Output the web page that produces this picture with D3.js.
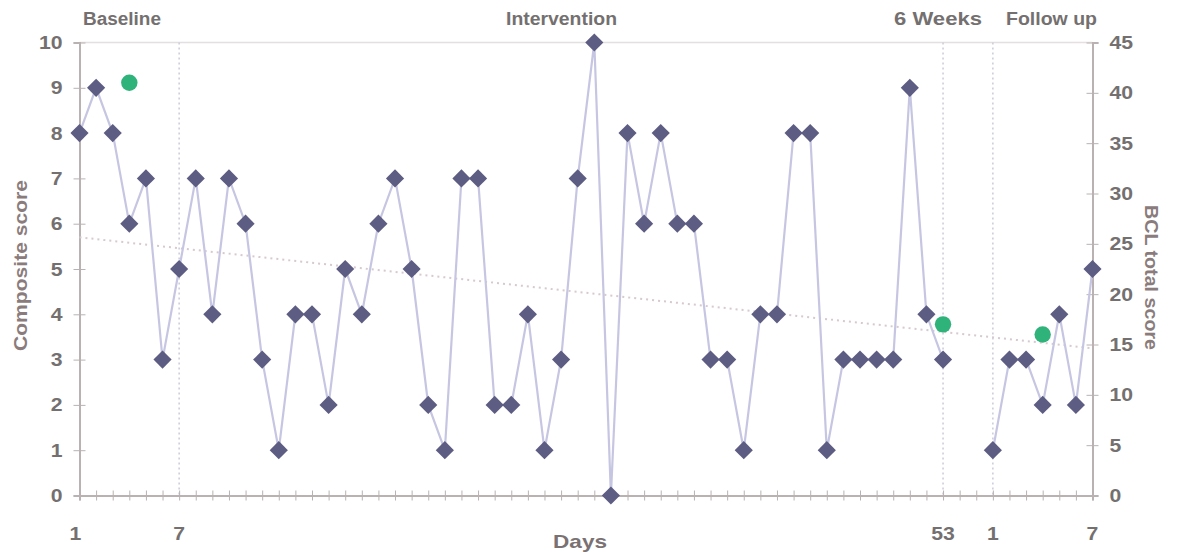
<!DOCTYPE html>
<html>
<head>
<meta charset="utf-8">
<script src="https://cdn.jsdelivr.net/npm/d3@7"></script>
<style>
  html, body { margin: 0; padding: 0; background: #fff; }
  svg { display: block; font-family: "Liberation Sans", Arial, sans-serif; }
</style>
</head>
<body>
<svg id="chart" width="1179" height="552"></svg>
<script>
// ---- data ----
// slot index along the x axis (0..61); slots 53,54 are the empty gap between 6-week and follow-up
const slots = d3.range(62);
const compositeScores = [
  8, 9, 8, 6, 7, 3, 5, 7, 4, 7, 6, 3, 1, 4, 4, 2, 5, 4, 6, 7,
  5, 2, 1, 7, 7, 2, 2, 4, 1, 3, 7, 10, 0, 8, 6, 8, 6, 6, 3, 3,
  1, 4, 4, 8, 8, 1, 3, 3, 3, 3, 9, 4, 3, null, null, 1, 3, 3, 2, 4,
  2, 5
];
const bclSlots = [3, 52, 58];
const bclScores = [41, 17, 16];
const trendSlots = [0, 61];
const trendValues = [5.7, 3.25];
const phaseLineSlots = [6, 52, 55];
const xTickSlots = [0, 6, 52, 55, 61];
const xTickLabels = ["1", "7", "53", "1", "7"];
const phaseLabels = ["Baseline", "Intervention", "6 Weeks", "Follow up"];
const leftTicks = d3.range(0, 11);
const rightTicks = d3.range(0, 46, 5);

// ---- layout ----
const svg = d3.select("#chart");
const L = 79.5, R = 1092.5, T = 42.5, B = 495.5;
const x = d3.scaleLinear().domain([0, 61]).range([L, R]);
const y = d3.scaleLinear().domain([0, 10]).range([B, T]);
const y2 = d3.scaleLinear().domain([0, 45]).range([B, T]);

const axisCol = "#bab2b2";
const textCol = "#747070";
const titleCol = "#8a7c7c";
const digitW = 11.8;

// top frame line
svg.append("line").attr("x1", L).attr("x2", R).attr("y1", T).attr("y2", T)
  .attr("stroke", "#e4e0e0").attr("stroke-width", 1.5);

// phase dividers
svg.selectAll(".phase").data(phaseLineSlots).enter().append("line")
  .attr("x1", d => x(d)).attr("x2", d => x(d)).attr("y1", T).attr("y2", B)
  .attr("stroke", "#cbcbd8").attr("stroke-width", 1.5).attr("stroke-dasharray", "2,3");

function styleNum(sel) {
  sel.attr("fill", textCol).attr("font-size", 19).attr("font-weight", "bold")
    .attr("lengthAdjust", "spacingAndGlyphs")
    .attr("textLength", function () { return this.textContent.length * digitW; });
}

// left axis
const yAxis = d3.axisLeft(y).tickValues(leftTicks).tickSize(6).tickFormat(d3.format("d"));
const gL = svg.append("g").attr("transform", `translate(${L},0)`).call(yAxis);
gL.select(".domain").attr("stroke", axisCol).attr("stroke-width", 2);
gL.selectAll(".tick line").attr("stroke", axisCol).attr("x2", 6).attr("x1", -6);
gL.selectAll(".tick text").attr("x", -17).call(styleNum);

// right axis
const yAxis2 = d3.axisRight(y2).tickValues(rightTicks).tickSize(6).tickFormat(d3.format("d"));
const gR = svg.append("g").attr("transform", `translate(${R},0)`).call(yAxis2);
gR.select(".domain").attr("stroke", axisCol).attr("stroke-width", 2);
gR.selectAll(".tick line").attr("stroke", axisCol).attr("x1", -6).attr("x2", 6);
gR.selectAll(".tick text").attr("x", 17).call(styleNum);

// bottom axis
const xAxis = d3.axisBottom(x).tickValues(slots).tickSize(5).tickFormat("");
const gB = svg.append("g").attr("transform", `translate(0,${B})`).call(xAxis);
gB.select(".domain").attr("stroke", axisCol).attr("stroke-width", 2);
gB.selectAll(".tick line").attr("stroke", axisCol).attr("y1", -5).attr("y2", 5);

// x tick labels
svg.selectAll(".xlab").data(xTickSlots).enter().append("text")
  .attr("x", (d, i) => x(d) + (i === 0 ? -4 : 0)).attr("y", 540)
  .attr("text-anchor", "middle")
  .text((d, i) => xTickLabels[i])
  .call(styleNum);

// trend line
svg.append("line")
  .attr("x1", x(trendSlots[0])).attr("y1", y(trendValues[0]))
  .attr("x2", x(trendSlots[1])).attr("y2", y(trendValues[1]))
  .attr("stroke", "#d6c9d0").attr("stroke-width", 2).attr("stroke-dasharray", "2,4");

// composite line
const pts = slots.map((s, i) => ({ s, v: compositeScores[i] }));
const line = d3.line().defined(d => d.v != null).x(d => x(d.s)).y(d => y(d.v));
svg.append("path").datum(pts).attr("d", line)
  .attr("fill", "none").attr("stroke", "#c6c6e2").attr("stroke-width", 2.2);

// diamonds
const diamond = d3.symbol().type(d3.symbolSquare).size(165);
svg.selectAll(".dia").data(pts.filter(d => d.v != null)).enter().append("path")
  .attr("d", diamond)
  .attr("transform", d => `translate(${x(d.s)},${y(d.v)}) rotate(45)`)
  .attr("fill", "#5d5c82");

// BCL points
svg.selectAll(".bcl").data(bclSlots).enter().append("circle")
  .attr("cx", d => x(d)).attr("cy", (d, i) => y2(bclScores[i]))
  .attr("r", 8.2).attr("fill", "#2fb37a");

// phase labels (left edge, width)
const phaseX = [83, 506, 894, 1006];
const phaseW = [78, 111, 88, 91];
svg.selectAll(".plab").data(phaseLabels).enter().append("text")
  .attr("x", (d, i) => phaseX[i]).attr("y", 25)
  .attr("fill", textCol).attr("font-size", 18).attr("font-weight", "bold")
  .attr("lengthAdjust", "spacingAndGlyphs").attr("textLength", (d, i) => phaseW[i])
  .text(d => d);

// axis titles
svg.append("text").attr("transform", "translate(27,351) rotate(-90)")
  .attr("fill", titleCol).attr("font-size", 19).attr("font-weight", "bold")
  .attr("lengthAdjust", "spacingAndGlyphs").attr("textLength", 171)
  .text("Composite score");
svg.append("text").attr("transform", "translate(1145,205) rotate(90)")
  .attr("fill", titleCol).attr("font-size", 19).attr("font-weight", "bold")
  .attr("lengthAdjust", "spacingAndGlyphs").attr("textLength", 145)
  .text("BCL total score");
svg.append("text").attr("x", 553).attr("y", 548)
  .attr("fill", "#7a7272").attr("font-size", 19).attr("font-weight", "bold")
  .attr("lengthAdjust", "spacingAndGlyphs").attr("textLength", 54)
  .text("Days");
</script>
</body>
</html>
